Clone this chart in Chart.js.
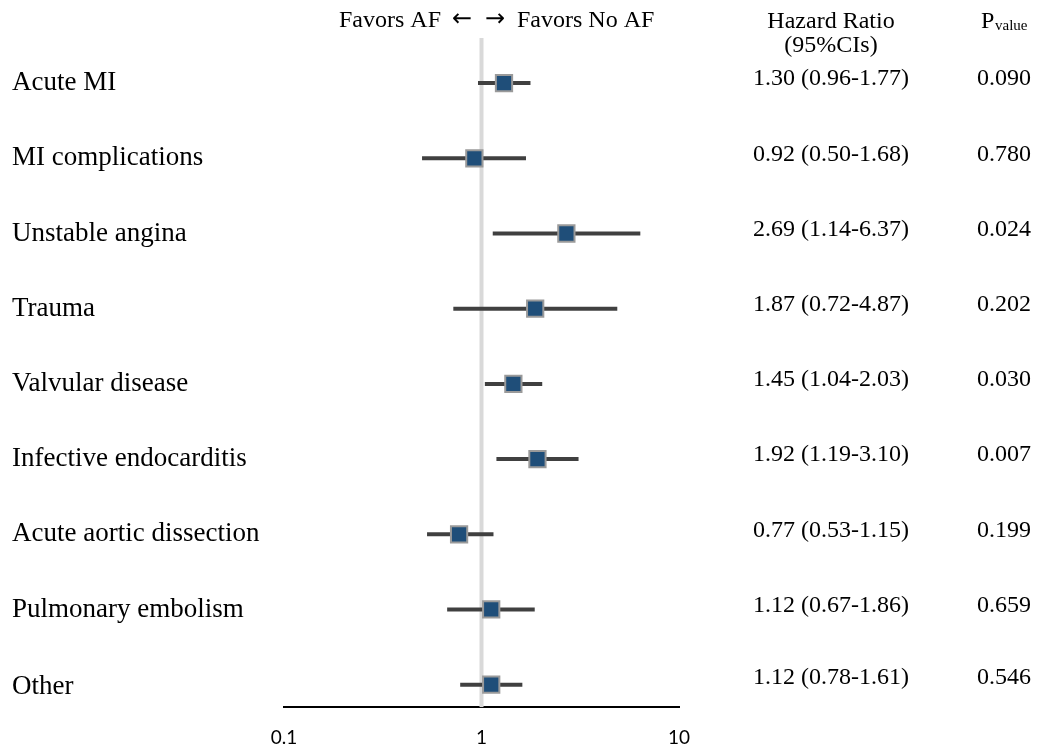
<!DOCTYPE html>
<html>
<head>
<meta charset="utf-8">
<script src="https://cdn.jsdelivr.net/npm/chart.js@4.4.1/dist/chart.umd.min.js"></script>
<style>
  html, body { margin: 0; padding: 0; background: #ffffff; }
  #wrap { width: 1045px; height: 746px; position: relative; }
</style>
</head>
<body>
<div id="wrap"><canvas id="c" width="1045" height="746"></canvas></div>
<script>
const categories = ["Acute MI", "MI complications", "Unstable angina", "Trauma", "Valvular disease",
  "Infective endocarditis", "Acute aortic dissection", "Pulmonary embolism", "Other"];
const hazardRatio = [1.30, 0.92, 2.69, 1.87, 1.45, 1.92, 0.77, 1.12, 1.12];
const ciLower = [0.96, 0.50, 1.14, 0.72, 1.04, 1.19, 0.53, 0.67, 0.78];
const ciUpper = [1.77, 1.68, 6.37, 4.87, 2.03, 3.10, 1.15, 1.86, 1.61];
const pValues = ["0.090", "0.780", "0.024", "0.202", "0.030", "0.007", "0.199", "0.659", "0.546"];
const xTicks = [0.1, 1, 10];

const serif = "'Liberation Serif', 'Times New Roman', serif";
const fmt = v => v.toFixed(2);

const datasets = [];
// reference line at HR = 1
datasets.push({
  type: 'line',
  data: [{x: 1, y: -0.6}, {x: 1, y: 8.3}],
  borderColor: '#d9d9d9',
  borderWidth: 4,
  pointRadius: 0,
  order: 3
});
// CI lines
categories.forEach((c, i) => {
  datasets.push({
    type: 'line',
    data: [{x: ciLower[i], y: i}, {x: ciUpper[i], y: i}],
    borderColor: '#404040',
    borderWidth: 4,
    borderCapStyle: 'butt',
    pointRadius: 0,
    order: 2
  });
});
// point estimates
datasets.push({
  type: 'scatter',
  data: hazardRatio.map((v, i) => ({x: v, y: i})),
  pointStyle: 'rect',
  pointRadius: 11.5,
  pointHoverRadius: 11.5,
  backgroundColor: '#1f4e79',
  borderColor: '#9a9a9a',
  borderWidth: 2,
  order: 1
});

const textPlugin = {
  id: 'forestText',
  afterDraw(chart) {
    const ctx = chart.ctx;
    const ys = chart.scales.y;
    ctx.save();
    ctx.fillStyle = '#000';
    ctx.textBaseline = 'middle';
    categories.forEach((c, i) => {
      const y = ys.getPixelForValue(i);
      ctx.font = "27px " + serif;
      ctx.textAlign = 'left';
      ctx.fillText(c, 12, y + (i === categories.length - 1 ? 2 : 0));
      ctx.font = "24px " + serif;
      ctx.textAlign = 'center';
      const yt = y - (i === categories.length - 1 ? 7 : 4);
      ctx.fillText(fmt(hazardRatio[i]) + " (" + fmt(ciLower[i]) + "-" + fmt(ciUpper[i]) + ")", 831, yt);
      ctx.fillText(pValues[i], 1004, yt);
    });
    // headers
    ctx.font = "24px " + serif;
    ctx.textAlign = 'right';
    ctx.fillText("Favors AF", 441, 21);
    ctx.textAlign = 'left';
    ctx.fillText("Favors No AF", 517, 21);
    ctx.font = "24px 'DejaVu Sans', sans-serif";
    ctx.textAlign = 'center';
    ctx.fillText("\u2190", 462, 20);
    ctx.fillText("\u2192", 495, 20);
    ctx.font = "24px " + serif;
    ctx.textAlign = 'center';
    ctx.fillText("Hazard Ratio", 831, 22);
    ctx.fillText("(95%CIs)", 831, 46);
    ctx.textAlign = 'left';
    ctx.fillText("P", 981, 22);
    ctx.font = "15px " + serif;
    ctx.fillText("value", 995, 26);
    ctx.restore();
  }
};

new Chart(document.getElementById('c'), {
  data: { datasets },
  options: {
    responsive: false,
    animation: false,
    events: [],
    layout: { padding: { left: 284, right: 366, top: 38, bottom: -14 } },
    plugins: { legend: { display: false }, tooltip: { enabled: false } },
    scales: {
      x: {
        type: 'logarithmic',
        min: 0.1,
        max: 10,
        afterBuildTicks: scale => { scale.ticks = xTicks.map(v => ({value: v})); },
        ticks: {
          color: '#000',
          font: { family: 'Lato', size: 19 },
          padding: 11,
          maxRotation: 0,
          autoSkip: false,
          callback: v => String(v)
        },
        grid: { display: false },
        border: { display: true, color: '#000', width: 2 }
      },
      y: {
        type: 'linear',
        min: -0.6,
        max: 8.3,
        reverse: true,
        display: false
      }
    }
  },
  plugins: [textPlugin]
});
</script>
</body>
</html>
